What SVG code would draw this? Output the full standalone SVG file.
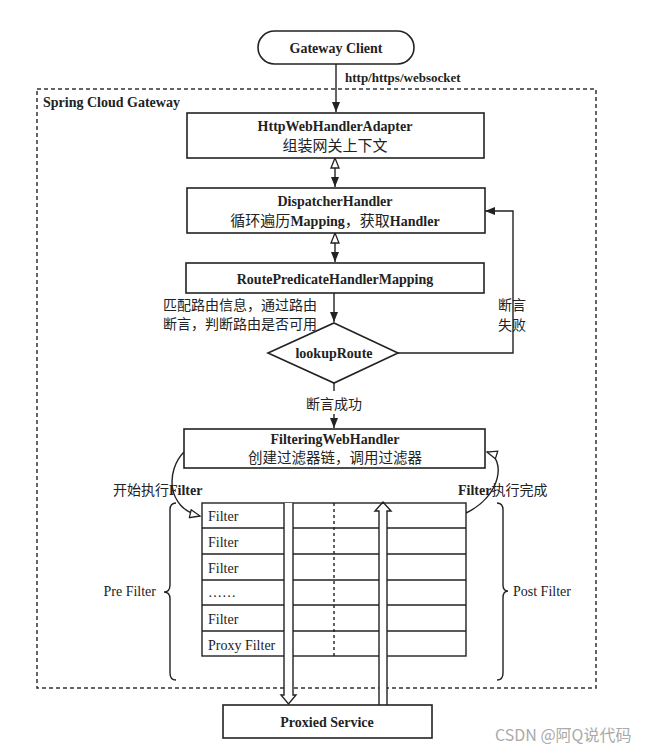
<svg xmlns="http://www.w3.org/2000/svg" width="669" height="755" viewBox="0 0 669 755">
<style>
.t{font-family:"Liberation Serif","Noto Sans CJK SC",serif;font-size:14px;font-weight:bold;fill:#222}
.r{font-family:"Liberation Serif","Noto Sans CJK SC",serif;font-size:14px;fill:#222}
.c{font-family:"Noto Sans CJK SC",sans-serif;font-size:14px;fill:#222}
.box{fill:#fff;stroke:#222;stroke-width:1.6}
.ln{fill:none;stroke:#222;stroke-width:1.4}
.m{text-anchor:middle}
</style>
<defs>
<marker id="af" viewBox="0 0 10 8" refX="10" refY="4" markerWidth="10" markerHeight="8" markerUnits="userSpaceOnUse" orient="auto-start-reverse"><path d="M0,0 L10,4 L0,8 z" fill="#222"/></marker>
<marker id="ah" viewBox="0 0 12 10" refX="11" refY="5" markerWidth="12" markerHeight="10" markerUnits="userSpaceOnUse" orient="auto-start-reverse"><path d="M1,1 L11,5 L1,9 z" fill="#fff" stroke="#222" stroke-width="1.3"/></marker>
</defs>
<rect width="669" height="755" fill="#fff"/>
<rect x="37" y="89" width="559" height="599" fill="none" stroke="#333" stroke-width="1.5" stroke-dasharray="4 3"/>
<text class="t" x="43" y="107">Spring Cloud Gateway</text>

<g id="connectors">
<line class="ln" x1="336" y1="64" x2="336" y2="112" marker-end="url(#af)"/>
<text class="t" x="345" y="82" style="font-size:13px">http/https/websocket</text>
<line class="ln" x1="335" y1="158" x2="335" y2="187" marker-start="url(#ah)" marker-end="url(#af)"/>
<line class="ln" x1="335" y1="233" x2="335" y2="262" marker-start="url(#ah)" marker-end="url(#af)"/>
<line class="ln" x1="334" y1="293" x2="334" y2="322" marker-end="url(#af)"/>
<text class="c" x="317" y="310" text-anchor="end">匹配路由信息，通过路由</text>
<text class="c" x="317" y="329" text-anchor="end">断言，判断路由是否可用</text>
<polyline class="ln" points="398,353 513,353 513,211 485,211" marker-end="url(#af)"/>
<text class="c" x="498" y="310">断言</text>
<text class="c" x="498" y="330">失败</text>
<line class="ln" x1="334" y1="383" x2="334" y2="391"/>
<text class="c m" x="334" y="409">断言成功</text>
<line class="ln" x1="334" y1="414" x2="334" y2="428" marker-end="url(#af)"/>
<path class="ln" d="M184,452 C166,470 166,508 200,516" marker-end="url(#ah)"/>
<text class="t" x="113" y="495"><tspan class="c" style="font-weight:normal">开始执行</tspan>Filter</text>
<path class="ln" d="M466,513 C502,496 506,458 487,452" marker-end="url(#ah)"/>
<text class="t" x="458" y="495">Filter<tspan class="c" style="font-weight:normal">执行完成</tspan></text>
<path class="ln" d="M176,503 Q170,503 170,510 L170,585 Q170,592 164,592 Q170,592 170,599 L170,673 Q170,680 176,680"/>
<text class="r" x="156" y="596" text-anchor="end">Pre Filter</text>
<path class="ln" d="M497,503 Q503,503 503,510 L503,585 Q503,591 508,591 Q503,591 503,598 L503,673 Q503,680 497,680"/>
<text class="r" x="513" y="596">Post Filter</text>
</g>

<g id="gateway-client">
<rect class="box" x="258" y="31" width="156" height="33" rx="16.5"/>
<text class="t m" x="336" y="53">Gateway Client</text>
</g>
<g id="http-web-handler-adapter">
<rect class="box" x="187" y="113" width="297" height="45"/>
<text class="t m" x="335" y="131">HttpWebHandlerAdapter</text>
<text class="c m" x="335" y="151" style="font-size:15px">组装网关上下文</text>
</g>
<g id="dispatcher-handler">
<rect class="box" x="187" y="188" width="298" height="45"/>
<text class="t m" x="335" y="206">DispatcherHandler</text>
<text class="t m" x="335" y="226"><tspan class="c" style="font-weight:normal;font-size:15px">循环遍历</tspan>Mapping<tspan class="c" style="font-weight:normal;font-size:15px">，获取</tspan>Handler</text>
</g>
<g id="route-predicate-handler-mapping">
<rect class="box" x="186" y="263" width="298" height="30"/>
<text class="t m" x="335" y="284">RoutePredicateHandlerMapping</text>
</g>
<g id="lookup-route">
<polygon class="box" points="334,323 398,353 334,383 268,353"/>
<text class="t m" x="334" y="358">lookupRoute</text>
</g>
<g id="filtering-web-handler">
<rect class="box" x="184" y="429" width="301" height="39"/>
<text class="t m" x="335" y="444">FilteringWebHandler</text>
<text class="c m" x="335" y="463" style="font-size:14.5px">创建过滤器链，调用过滤器</text>
</g>
<g id="filter-chain">
<rect x="202" y="503" width="264" height="153" fill="#fff" stroke="#222" stroke-width="1.4"/>
<g stroke="#222" stroke-width="1.4">
<line x1="202" y1="528" x2="466" y2="528"/>
<line x1="202" y1="554" x2="466" y2="554"/>
<line x1="202" y1="580" x2="466" y2="580"/>
<line x1="202" y1="605" x2="466" y2="605"/>
<line x1="202" y1="631" x2="466" y2="631"/>
</g>
<line x1="334" y1="503" x2="334" y2="656" stroke="#222" stroke-width="1.4" stroke-dasharray="3 3"/>
<text class="r" x="208" y="521">Filter</text>
<text class="r" x="208" y="547">Filter</text>
<text class="r" x="208" y="573">Filter</text>
<text class="r" x="208" y="597">……</text>
<text class="r" x="208" y="624">Filter</text>
<text class="r" x="208" y="650">Proxy Filter</text>
</g>
<g id="request-arrow">
<path d="M284,503 L284,695 L281,695 L288.5,704 L296,695 L293,695 L293,503" fill="#fff" stroke="#222" stroke-width="1.4"/>
</g>
<g id="response-arrow">
<path d="M379,705 L379,511 L375,511 L383,502 L391,511 L387,511 L387,705" fill="#fff" stroke="#222" stroke-width="1.4"/>
</g>
<g id="proxied-service">
<rect class="box" x="223" y="705" width="209" height="33"/>
<text class="t m" x="327" y="727">Proxied Service</text>
</g>
<text x="495" y="741" style="font-family:'Noto Sans CJK SC',sans-serif;font-size:16px;fill:#aaa">CSDN @阿Q说代码</text>
</svg>
